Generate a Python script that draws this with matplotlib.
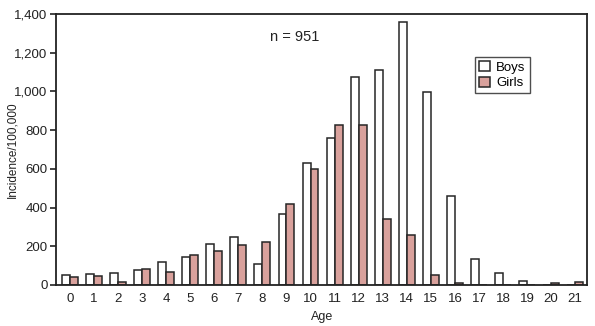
import numpy as np
import matplotlib
matplotlib.use('Agg')
import matplotlib.pyplot as plt
from matplotlib.ticker import FuncFormatter

plt.rcParams['font.family'] = ['Liberation Sans', 'DejaVu Sans']

ages = list(range(22))
boys = [52, 57, 64, 77, 119, 143, 212, 246, 110, 365, 629, 758, 1075, 1112,
        1359, 995, 462, 133, 62, 19, 0, 0]
girls = [43, 45, 17, 81, 69, 155, 177, 205, 224, 417, 598, 825, 825, 339,
         260, 50, 12, 0, 0, 0, 12, 15]

fig = plt.figure(figsize=(5.95, 3.26), dpi=100)
ax = fig.add_axes([0.094, 0.126, 0.893, 0.831])

x = np.arange(len(ages))
w = 0.33
edge = '#262626'
ax.bar(x - w / 2, boys, w, color='white', edgecolor=edge, linewidth=1.1, label='Boys')
ax.bar(x + w / 2, girls, w, color='#d9a19c', edgecolor=edge, linewidth=1.1, label='Girls')

ax.set_xlim(-0.58, 21.5)
ax.set_ylim(0, 1400)
ax.set_yticks(range(0, 1401, 200))
ax.yaxis.set_major_formatter(FuncFormatter(lambda v, p: f'{int(v):,}'))
ax.set_xticks(x)
ax.set_xticklabels([str(a) for a in ages])
ax.tick_params(axis='x', length=0, labelsize=9.5, pad=6, colors='#222222')
ax.tick_params(axis='y', length=4, width=1.2, labelsize=9.5, pad=2, colors='#222222')

for s in ax.spines.values():
    s.set_linewidth(1.3)
    s.set_color('#222222')

ax.set_xlabel('Age', fontsize=9, color='#222222', labelpad=4)
ax.set_ylabel('Incidence/100,000', fontsize=8.5, color='#222222')
ax.yaxis.set_label_coords(-0.071, 0.5)

ax.text(0.45, 0.915, 'n = 951', transform=ax.transAxes, ha='center', va='center',
        fontsize=10.5, color='#222222')

leg = ax.legend(loc='upper left', bbox_to_anchor=(0.789, 0.84), fontsize=9.5,
                frameon=True, fancybox=False, handlelength=0.8, handleheight=0.8,
                handletextpad=0.5, borderpad=0.3, labelspacing=0.2, borderaxespad=0)
leg.get_frame().set_edgecolor('#222222')
leg.get_frame().set_linewidth(1.0)

fig.savefig('out.png', dpi=100)
